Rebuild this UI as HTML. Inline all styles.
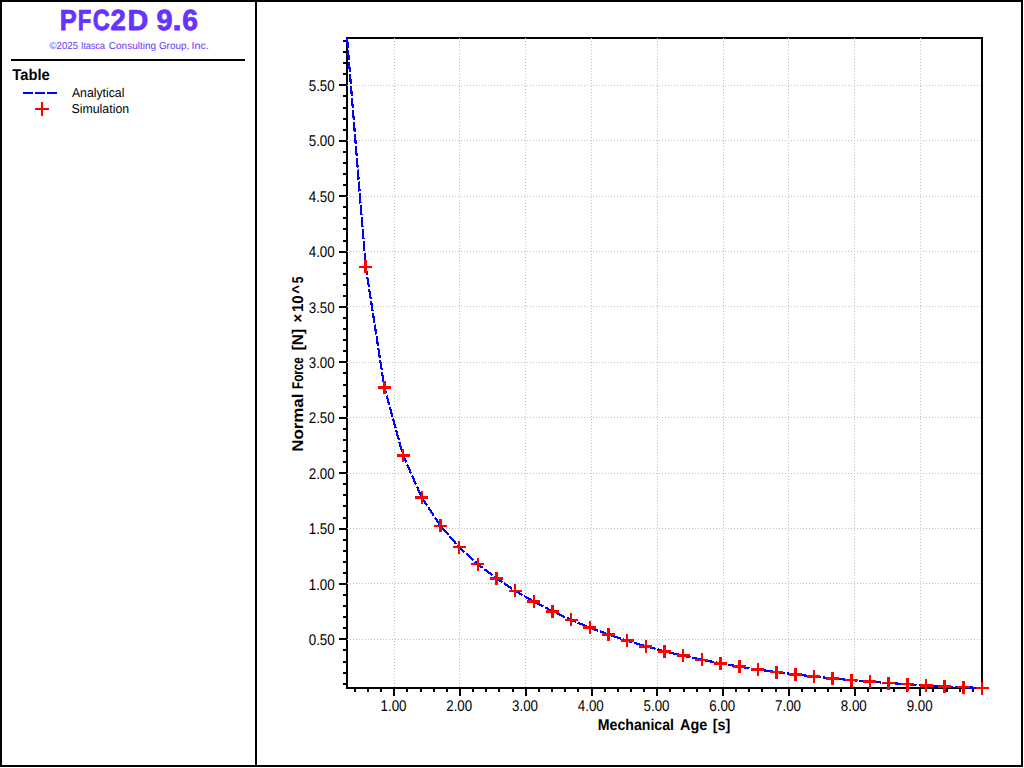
<!DOCTYPE html>
<html lang="en"><head><meta charset="utf-8"><title>PFC2D 9.6</title>
<style>
html,body{margin:0;padding:0;background:#fff;width:1024px;height:768px;overflow:hidden}
svg{display:block;position:absolute;left:0;top:0}
text{font-family:"Liberation Sans",sans-serif;fill:#000;text-rendering:geometricPrecision}
.b{font-weight:bold}
.c{shape-rendering:crispEdges}
</style></head><body>
<svg width="1024" height="768" viewBox="0 0 1024 768">
<rect x="0" y="0" width="1024" height="768" fill="#fff"/>
<g class="c" fill="#000">
<rect x="0" y="0" width="1023" height="2"/>
<rect x="0" y="765" width="1023" height="2"/>
<rect x="0" y="0" width="2" height="767"/>
<rect x="1021" y="0" width="2" height="767"/>
<rect x="255" y="0" width="2" height="767"/>
<rect x="11" y="59" width="234" height="2"/>
</g>
<text class="b" y="30" font-size="29.0" style="fill:#6633ff;stroke:#6633ff;stroke-width:0.8"><tspan x="59.75" textLength="16.97" lengthAdjust="spacingAndGlyphs">P</tspan><tspan x="77.82" textLength="13.59" lengthAdjust="spacingAndGlyphs">F</tspan><tspan x="92.66" textLength="17.06" lengthAdjust="spacingAndGlyphs">C</tspan><tspan x="110.53" textLength="15.30" lengthAdjust="spacingAndGlyphs">2</tspan><tspan x="127.48" textLength="20.73" lengthAdjust="spacingAndGlyphs">D</tspan><tspan x="150"> </tspan><tspan x="156.60" textLength="16.08" lengthAdjust="spacingAndGlyphs">9</tspan><tspan x="172.64" textLength="9.06" lengthAdjust="spacingAndGlyphs">.</tspan><tspan x="182.36" textLength="15.67" lengthAdjust="spacingAndGlyphs">6</tspan></text>
<text y="49" font-size="10.1" style="fill:#6633ff"><tspan x="49.55" textLength="28.45" lengthAdjust="spacingAndGlyphs">©2025</tspan><tspan x="78.7"> </tspan><tspan x="80.97" textLength="24.03" lengthAdjust="spacingAndGlyphs">Itasca</tspan><tspan x="106.2"> </tspan><tspan x="108.79" textLength="47.35" lengthAdjust="spacingAndGlyphs">Consulting</tspan><tspan x="156.4"> </tspan><tspan x="158.90" textLength="30.39" lengthAdjust="spacingAndGlyphs">Group,</tspan><tspan x="189.5"> </tspan><tspan x="191.61" textLength="17.27" lengthAdjust="spacingAndGlyphs">Inc.</tspan></text>
<text class="b" y="80" font-size="15.6"><tspan x="12.34" textLength="37.35" lengthAdjust="spacingAndGlyphs">Table</tspan></text>
<g class="c">
<rect x="23" y="92" width="10" height="2" fill="#00f"/>
<rect x="35" y="92" width="10" height="2" fill="#00f"/>
<rect x="47" y="92" width="10" height="2" fill="#00f"/>
<rect x="35" y="108" width="14" height="2" fill="#f00"/><rect x="41" y="102" width="2" height="14" fill="#f00"/>
</g>
<text y="97" font-size="12.8"><tspan x="71.88" textLength="52.55" lengthAdjust="spacingAndGlyphs">Analytical</tspan></text>
<text y="113" font-size="12.8"><tspan x="71.54" textLength="57.56" lengthAdjust="spacingAndGlyphs">Simulation</tspan></text>
<g class="c" fill="#000">
<rect x="346" y="37" width="637" height="2"/>
<rect x="346" y="687" width="637" height="2"/>
<rect x="346" y="37" width="2" height="652"/>
<rect x="981" y="37" width="2" height="652"/>
<rect x="343" y="683" width="3" height="2"/>
<rect x="343" y="672" width="3" height="2"/>
<rect x="343" y="661" width="3" height="2"/>
<rect x="343" y="649" width="3" height="2"/>
<rect x="339" y="638" width="7" height="2"/>
<rect x="343" y="627" width="3" height="2"/>
<rect x="343" y="616" width="3" height="2"/>
<rect x="343" y="605" width="3" height="2"/>
<rect x="343" y="594" width="3" height="2"/>
<rect x="339" y="583" width="7" height="2"/>
<rect x="343" y="572" width="3" height="2"/>
<rect x="343" y="561" width="3" height="2"/>
<rect x="343" y="550" width="3" height="2"/>
<rect x="343" y="539" width="3" height="2"/>
<rect x="339" y="528" width="7" height="2"/>
<rect x="343" y="517" width="3" height="2"/>
<rect x="343" y="505" width="3" height="2"/>
<rect x="343" y="494" width="3" height="2"/>
<rect x="343" y="483" width="3" height="2"/>
<rect x="339" y="472" width="7" height="2"/>
<rect x="343" y="461" width="3" height="2"/>
<rect x="343" y="450" width="3" height="2"/>
<rect x="343" y="439" width="3" height="2"/>
<rect x="343" y="428" width="3" height="2"/>
<rect x="339" y="417" width="7" height="2"/>
<rect x="343" y="406" width="3" height="2"/>
<rect x="343" y="395" width="3" height="2"/>
<rect x="343" y="384" width="3" height="2"/>
<rect x="343" y="372" width="3" height="2"/>
<rect x="339" y="361" width="7" height="2"/>
<rect x="343" y="350" width="3" height="2"/>
<rect x="343" y="339" width="3" height="2"/>
<rect x="343" y="328" width="3" height="2"/>
<rect x="343" y="317" width="3" height="2"/>
<rect x="339" y="306" width="7" height="2"/>
<rect x="343" y="295" width="3" height="2"/>
<rect x="343" y="284" width="3" height="2"/>
<rect x="343" y="273" width="3" height="2"/>
<rect x="343" y="262" width="3" height="2"/>
<rect x="339" y="251" width="7" height="2"/>
<rect x="343" y="240" width="3" height="2"/>
<rect x="343" y="228" width="3" height="2"/>
<rect x="343" y="217" width="3" height="2"/>
<rect x="343" y="206" width="3" height="2"/>
<rect x="339" y="195" width="7" height="2"/>
<rect x="343" y="184" width="3" height="2"/>
<rect x="343" y="173" width="3" height="2"/>
<rect x="343" y="162" width="3" height="2"/>
<rect x="343" y="151" width="3" height="2"/>
<rect x="339" y="140" width="7" height="2"/>
<rect x="343" y="129" width="3" height="2"/>
<rect x="343" y="118" width="3" height="2"/>
<rect x="343" y="107" width="3" height="2"/>
<rect x="343" y="95" width="3" height="2"/>
<rect x="339" y="84" width="7" height="2"/>
<rect x="343" y="73" width="3" height="2"/>
<rect x="343" y="62" width="3" height="2"/>
<rect x="343" y="51" width="3" height="2"/>
<rect x="343" y="40" width="3" height="2"/>
<rect x="354" y="689" width="2" height="3"/>
<rect x="367" y="689" width="2" height="3"/>
<rect x="380" y="689" width="2" height="3"/>
<rect x="393" y="689" width="2" height="7"/>
<rect x="406" y="689" width="2" height="3"/>
<rect x="420" y="689" width="2" height="3"/>
<rect x="433" y="689" width="2" height="3"/>
<rect x="446" y="689" width="2" height="3"/>
<rect x="459" y="689" width="2" height="7"/>
<rect x="472" y="689" width="2" height="3"/>
<rect x="485" y="689" width="2" height="3"/>
<rect x="498" y="689" width="2" height="3"/>
<rect x="512" y="689" width="2" height="3"/>
<rect x="525" y="689" width="2" height="7"/>
<rect x="538" y="689" width="2" height="3"/>
<rect x="551" y="689" width="2" height="3"/>
<rect x="564" y="689" width="2" height="3"/>
<rect x="577" y="689" width="2" height="3"/>
<rect x="591" y="689" width="2" height="7"/>
<rect x="604" y="689" width="2" height="3"/>
<rect x="617" y="689" width="2" height="3"/>
<rect x="630" y="689" width="2" height="3"/>
<rect x="643" y="689" width="2" height="3"/>
<rect x="656" y="689" width="2" height="7"/>
<rect x="669" y="689" width="2" height="3"/>
<rect x="683" y="689" width="2" height="3"/>
<rect x="696" y="689" width="2" height="3"/>
<rect x="709" y="689" width="2" height="3"/>
<rect x="722" y="689" width="2" height="7"/>
<rect x="735" y="689" width="2" height="3"/>
<rect x="748" y="689" width="2" height="3"/>
<rect x="761" y="689" width="2" height="3"/>
<rect x="775" y="689" width="2" height="3"/>
<rect x="788" y="689" width="2" height="7"/>
<rect x="801" y="689" width="2" height="3"/>
<rect x="814" y="689" width="2" height="3"/>
<rect x="827" y="689" width="2" height="3"/>
<rect x="840" y="689" width="2" height="3"/>
<rect x="854" y="689" width="2" height="7"/>
<rect x="867" y="689" width="2" height="3"/>
<rect x="880" y="689" width="2" height="3"/>
<rect x="893" y="689" width="2" height="3"/>
<rect x="906" y="689" width="2" height="3"/>
<rect x="919" y="689" width="2" height="7"/>
<rect x="932" y="689" width="2" height="3"/>
<rect x="946" y="689" width="2" height="3"/>
<rect x="959" y="689" width="2" height="3"/>
<rect x="972" y="689" width="2" height="3"/>
</g>
<g class="c" fill="#c0c0c0">
</g>
<g class="c" stroke="#c0c0c0" stroke-width="1" stroke-dasharray="1 2" fill="none">
<line x1="347" y1="639.5" x2="981" y2="639.5"/>
<line x1="347" y1="583.5" x2="981" y2="583.5"/>
<line x1="347" y1="528.5" x2="981" y2="528.5"/>
<line x1="347" y1="473.5" x2="981" y2="473.5"/>
<line x1="347" y1="417.5" x2="981" y2="417.5"/>
<line x1="347" y1="362.5" x2="981" y2="362.5"/>
<line x1="347" y1="306.5" x2="981" y2="306.5"/>
<line x1="347" y1="251.5" x2="981" y2="251.5"/>
<line x1="347" y1="196.5" x2="981" y2="196.5"/>
<line x1="347" y1="140.5" x2="981" y2="140.5"/>
<line x1="347" y1="85.5" x2="981" y2="85.5"/>
<line x1="394.5" y1="38" x2="394.5" y2="687"/>
<line x1="459.5" y1="38" x2="459.5" y2="687"/>
<line x1="525.5" y1="38" x2="525.5" y2="687"/>
<line x1="591.5" y1="38" x2="591.5" y2="687"/>
<line x1="657.5" y1="38" x2="657.5" y2="687"/>
<line x1="723.5" y1="38" x2="723.5" y2="687"/>
<line x1="788.5" y1="38" x2="788.5" y2="687"/>
<line x1="854.5" y1="38" x2="854.5" y2="687"/>
<line x1="920.5" y1="38" x2="920.5" y2="687"/>
</g>
<g font-size="15.5">
<text x="334.7" y="645.0" text-anchor="end" textLength="25.95" lengthAdjust="spacingAndGlyphs">0.50</text>
<text x="334.7" y="589.6" text-anchor="end" textLength="25.95" lengthAdjust="spacingAndGlyphs">1.00</text>
<text x="334.7" y="534.2" text-anchor="end" textLength="25.95" lengthAdjust="spacingAndGlyphs">1.50</text>
<text x="334.7" y="478.8" text-anchor="end" textLength="25.95" lengthAdjust="spacingAndGlyphs">2.00</text>
<text x="334.7" y="423.4" text-anchor="end" textLength="25.95" lengthAdjust="spacingAndGlyphs">2.50</text>
<text x="334.7" y="368.0" text-anchor="end" textLength="25.95" lengthAdjust="spacingAndGlyphs">3.00</text>
<text x="334.7" y="312.6" text-anchor="end" textLength="25.95" lengthAdjust="spacingAndGlyphs">3.50</text>
<text x="334.7" y="257.2" text-anchor="end" textLength="25.95" lengthAdjust="spacingAndGlyphs">4.00</text>
<text x="334.7" y="201.8" text-anchor="end" textLength="25.95" lengthAdjust="spacingAndGlyphs">4.50</text>
<text x="334.7" y="146.4" text-anchor="end" textLength="25.95" lengthAdjust="spacingAndGlyphs">5.00</text>
<text x="334.7" y="91.0" text-anchor="end" textLength="25.95" lengthAdjust="spacingAndGlyphs">5.50</text>
<text x="393.5" y="710.8" text-anchor="middle" textLength="25.95" lengthAdjust="spacingAndGlyphs">1.00</text>
<text x="459.2" y="710.8" text-anchor="middle" textLength="25.95" lengthAdjust="spacingAndGlyphs">2.00</text>
<text x="525.0" y="710.8" text-anchor="middle" textLength="25.95" lengthAdjust="spacingAndGlyphs">3.00</text>
<text x="590.8" y="710.8" text-anchor="middle" textLength="25.95" lengthAdjust="spacingAndGlyphs">4.00</text>
<text x="656.5" y="710.8" text-anchor="middle" textLength="25.95" lengthAdjust="spacingAndGlyphs">5.00</text>
<text x="722.3" y="710.8" text-anchor="middle" textLength="25.95" lengthAdjust="spacingAndGlyphs">6.00</text>
<text x="788.0" y="710.8" text-anchor="middle" textLength="25.95" lengthAdjust="spacingAndGlyphs">7.00</text>
<text x="853.8" y="710.8" text-anchor="middle" textLength="25.95" lengthAdjust="spacingAndGlyphs">8.00</text>
<text x="919.6" y="710.8" text-anchor="middle" textLength="25.95" lengthAdjust="spacingAndGlyphs">9.00</text>
</g>
<text class="b" y="730" font-size="15.6"><tspan x="597.86" textLength="76.14" lengthAdjust="spacingAndGlyphs">Mechanical</tspan><tspan x="675.7"> </tspan><tspan x="680.04" textLength="27.25" lengthAdjust="spacingAndGlyphs">Age</tspan><tspan x="709.2"> </tspan><tspan x="712.79" textLength="17.62" lengthAdjust="spacingAndGlyphs">[s]</tspan></text>
<text class="b" transform="translate(303,450.6) rotate(-90)" y="0" font-size="15.6"><tspan x="-1.13" textLength="58.12" lengthAdjust="spacingAndGlyphs">Normal</tspan><tspan x="58.1"> </tspan><tspan x="61.62" textLength="31.78" lengthAdjust="spacingAndGlyphs">Force</tspan><tspan x="96.1"> </tspan><tspan x="100.34" textLength="21.33" lengthAdjust="spacingAndGlyphs">[N]</tspan><tspan x="123.7"> </tspan><tspan x="127.99" textLength="8.53" lengthAdjust="spacingAndGlyphs">×</tspan><tspan x="138.56" textLength="16.66" lengthAdjust="spacingAndGlyphs">10</tspan><tspan x="156.97" textLength="8.87" lengthAdjust="spacingAndGlyphs">^</tspan><tspan x="167.43" textLength="6.71" lengthAdjust="spacingAndGlyphs">5</tspan></text>
<polyline class="c" points="347.05,38.00 365.73,266.75 384.40,387.42 403.08,455.47 421.75,497.38 440.43,525.88 459.11,547.13 477.78,564.14 496.46,578.42 515.13,590.78 533.81,601.64 552.49,611.29 571.16,619.90 589.84,627.61 608.51,634.52 627.19,640.71 645.87,646.27 664.54,651.25 683.22,655.73 701.89,659.75 720.57,663.35 739.25,666.59 757.92,669.49 776.60,672.10 795.27,674.44 813.95,676.54 832.63,678.43 851.30,680.12 869.98,681.64 888.65,683.01 907.33,684.23 926.01,685.33 944.68,686.32 963.36,687.20 982.03,688.00" fill="none" stroke="#00f" stroke-width="2.2" stroke-dasharray="10 2"/>
<g class="c" fill="#f00">
<rect x="359.23" y="265.50" width="13" height="2.5"/><rect x="364.48" y="260.25" width="2.5" height="13"/>
<rect x="377.90" y="386.17" width="13" height="2.5"/><rect x="383.15" y="380.92" width="2.5" height="13"/>
<rect x="396.58" y="454.22" width="13" height="2.5"/><rect x="401.83" y="448.97" width="2.5" height="13"/>
<rect x="415.25" y="496.13" width="13" height="2.5"/><rect x="420.50" y="490.88" width="2.5" height="13"/>
<rect x="433.93" y="524.63" width="13" height="2.5"/><rect x="439.18" y="519.38" width="2.5" height="13"/>
<rect x="452.61" y="545.88" width="13" height="2.5"/><rect x="457.86" y="540.63" width="2.5" height="13"/>
<rect x="471.28" y="562.89" width="13" height="2.5"/><rect x="476.53" y="557.64" width="2.5" height="13"/>
<rect x="489.96" y="577.17" width="13" height="2.5"/><rect x="495.21" y="571.92" width="2.5" height="13"/>
<rect x="508.63" y="589.53" width="13" height="2.5"/><rect x="513.88" y="584.28" width="2.5" height="13"/>
<rect x="527.31" y="600.39" width="13" height="2.5"/><rect x="532.56" y="595.14" width="2.5" height="13"/>
<rect x="545.99" y="610.04" width="13" height="2.5"/><rect x="551.24" y="604.79" width="2.5" height="13"/>
<rect x="564.66" y="618.65" width="13" height="2.5"/><rect x="569.91" y="613.40" width="2.5" height="13"/>
<rect x="583.34" y="626.36" width="13" height="2.5"/><rect x="588.59" y="621.11" width="2.5" height="13"/>
<rect x="602.01" y="633.27" width="13" height="2.5"/><rect x="607.26" y="628.02" width="2.5" height="13"/>
<rect x="620.69" y="639.46" width="13" height="2.5"/><rect x="625.94" y="634.21" width="2.5" height="13"/>
<rect x="639.37" y="645.02" width="13" height="2.5"/><rect x="644.62" y="639.77" width="2.5" height="13"/>
<rect x="658.04" y="650.00" width="13" height="2.5"/><rect x="663.29" y="644.75" width="2.5" height="13"/>
<rect x="676.72" y="654.48" width="13" height="2.5"/><rect x="681.97" y="649.23" width="2.5" height="13"/>
<rect x="695.39" y="658.50" width="13" height="2.5"/><rect x="700.64" y="653.25" width="2.5" height="13"/>
<rect x="714.07" y="662.10" width="13" height="2.5"/><rect x="719.32" y="656.85" width="2.5" height="13"/>
<rect x="732.75" y="665.34" width="13" height="2.5"/><rect x="738.00" y="660.09" width="2.5" height="13"/>
<rect x="751.42" y="668.24" width="13" height="2.5"/><rect x="756.67" y="662.99" width="2.5" height="13"/>
<rect x="770.10" y="670.85" width="13" height="2.5"/><rect x="775.35" y="665.60" width="2.5" height="13"/>
<rect x="788.77" y="673.19" width="13" height="2.5"/><rect x="794.02" y="667.94" width="2.5" height="13"/>
<rect x="807.45" y="675.29" width="13" height="2.5"/><rect x="812.70" y="670.04" width="2.5" height="13"/>
<rect x="826.13" y="677.18" width="13" height="2.5"/><rect x="831.38" y="671.93" width="2.5" height="13"/>
<rect x="844.80" y="678.87" width="13" height="2.5"/><rect x="850.05" y="673.62" width="2.5" height="13"/>
<rect x="863.48" y="680.39" width="13" height="2.5"/><rect x="868.73" y="675.14" width="2.5" height="13"/>
<rect x="882.15" y="681.76" width="13" height="2.5"/><rect x="887.40" y="676.51" width="2.5" height="13"/>
<rect x="900.83" y="682.98" width="13" height="2.5"/><rect x="906.08" y="677.73" width="2.5" height="13"/>
<rect x="919.51" y="684.08" width="13" height="2.5"/><rect x="924.76" y="678.83" width="2.5" height="13"/>
<rect x="938.18" y="685.07" width="13" height="2.5"/><rect x="943.43" y="679.82" width="2.5" height="13"/>
<rect x="956.86" y="685.95" width="13" height="2.5"/><rect x="962.11" y="680.70" width="2.5" height="13"/>
<rect x="975.53" y="686.75" width="13" height="2.5"/><rect x="980.78" y="681.50" width="2.5" height="13"/>
</g>
</svg></body></html>
